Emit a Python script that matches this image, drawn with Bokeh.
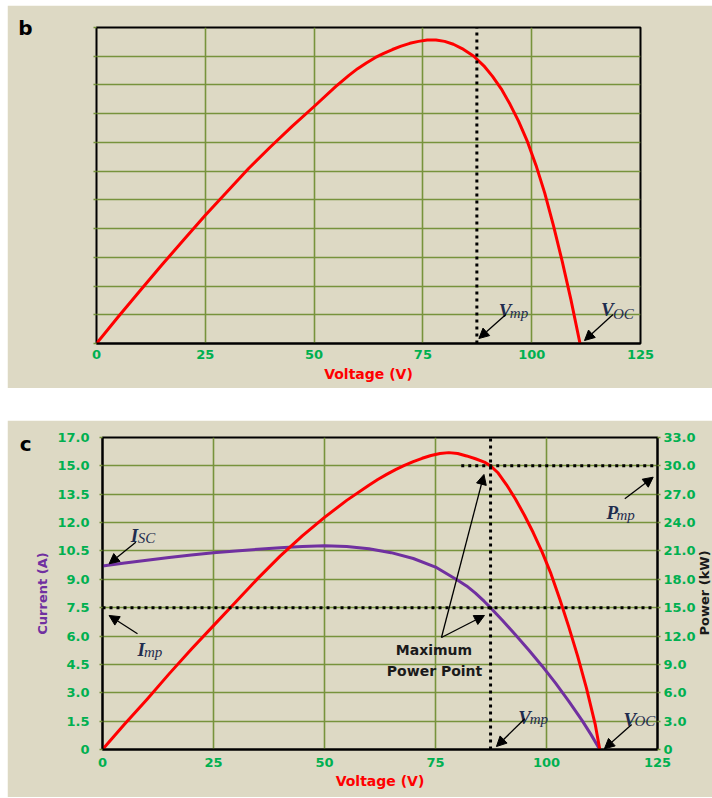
import math

from bokeh.embed import file_html
from bokeh.models import Arrow, FixedTicker, Label, LinearAxis, NormalHead, Range1d
from bokeh.plotting import figure
from bokeh.resources import INLINE

# ---------------------------------------------------------------- data
# panel b: power against voltage
volt_b = [0, 5, 10, 15, 20, 25, 30, 35, 40, 45, 50, 55, 58, 60, 62, 64, 66, 68,
          70, 72, 74, 76, 78, 80, 82, 84, 86.7, 89, 91, 93, 95, 97, 99, 101, 103,
          105, 107, 109, 111.1]
power_b = [0, 2.8, 5.5, 8.2, 10.8, 13.4, 15.85, 18.3, 20.55, 22.7, 24.75, 26.85,
           28.0, 28.7, 29.3, 29.85, 30.3, 30.7, 31.05, 31.35, 31.55, 31.7, 31.7,
           31.55, 31.25, 30.8, 30.0, 29.0, 27.9, 26.6, 25.0, 23.2, 21.1, 18.6,
           15.7, 12.3, 8.6, 4.6, 0]

# panel c: current and power against voltage
volt_c_current = [0, 5, 10, 15, 20, 25, 30, 35, 40, 45, 50, 55, 60, 65, 70, 75,
                  80, 82, 84, 86, 87.4, 90, 93, 96, 99, 102, 105, 108, 110, 112]
current_c = [9.7, 9.86, 10.01, 10.15, 10.28, 10.4, 10.5, 10.59, 10.67, 10.74,
             10.77, 10.74, 10.62, 10.41, 10.1, 9.65, 8.95, 8.65, 8.27, 7.83, 7.5,
             6.85, 6.07, 5.26, 4.42, 3.52, 2.56, 1.54, 0.8, 0]
volt_c_power = [0, 5, 10, 15, 20, 25, 30, 35, 40, 45, 50, 55, 60, 62, 64, 66, 68,
                70, 72, 74, 76, 78, 80, 82, 84, 86, 87.4, 89, 91, 93, 95, 97, 99,
                101, 103, 105, 107, 109, 111, 112]
power_c = [0, 2.7, 5.3, 8.0, 10.6, 13.1, 15.6, 18.1, 20.45, 22.6, 24.55, 26.35,
           27.95, 28.55, 29.1, 29.6, 30.05, 30.45, 30.8, 31.1, 31.3, 31.4, 31.3,
           31.05, 30.75, 30.4, 30.0, 29.3, 28.0, 26.5, 24.8, 22.95, 20.9, 18.6,
           15.9, 13.0, 9.9, 6.5, 2.6, 0]

# characteristic points
v_mp = 87.4
i_mp = 7.5
p_mp = 30.0
i_sc = current_c[0]
v_oc_b = volt_b[-1]
v_oc_c = volt_c_current[-1]

# axes
voltage_ticks = [0, 25, 50, 75, 100, 125]
current_ticks = [0, 1.5, 3.0, 4.5, 6.0, 7.5, 9.0, 10.5, 12.0, 13.5, 15.0, 16.5]
current_tick_labels = ["0", "1.5", "3.0", "4.5", "6.0", "7.5", "9.0", "10.5",
                       "12.0", "13.5", "15.0", "17.0"]
power_ticks = [0, 3, 6, 9, 12, 15, 18, 21, 24, 27, 30, 33]
power_tick_labels = ["0", "3.0", "6.0", "9.0", "12.0", "15.0", "18.0", "21.0",
                     "24.0", "27.0", "30.0", "33.0"]

# ---------------------------------------------------------------- styles
BEIGE = "#DDD9C4"
GRID = "#77933C"
TICK_GREEN = "#00B050"
RED = "#FF0000"
PURPLE = "#7030A0"
INK = "#1F2D4F"
SANS = "DejaVu Sans"
SERIF = "Liberation Serif"

V_MAX = voltage_ticks[-1]
I_MAX = current_ticks[-1]
P_MAX = power_ticks[-1]

# frame sizes in pixels (used to place notes at fixed pixel offsets)
B_W, B_H = 544, 316
C_W, C_H = 555, 312
xs_b, ys_b = B_W / V_MAX, B_H / P_MAX
xs_c, ys_ci, ys_cp = C_W / V_MAX, C_H / I_MAX, C_H / P_MAX

DOT_END = 124.2       # dotted guides stop just short of the right frame edge
PMP_DOT_START = 80.8  # horizontal P_mp guide starts left of the MPP


def shift(x, y, dx, dy, xs, ys):
    """Move a data point by a pixel offset (dy positive = up)."""
    return x + dx / xs, y + dy / ys


def base_figure(fw, fh, y_max, left, right, top, bottom):
    p = figure(frame_width=fw, frame_height=fh,
               x_range=Range1d(0, V_MAX), y_range=Range1d(0, y_max),
               output_backend="svg", toolbar_location=None,
               min_border_left=left, min_border_right=right,
               min_border_top=top, min_border_bottom=bottom)
    p.background_fill_color = BEIGE
    p.border_fill_color = BEIGE
    p.outline_line_color = "black"
    p.outline_line_width = 2

    p.xgrid.ticker = FixedTicker(ticks=voltage_ticks)
    p.xgrid.grid_line_color = GRID
    p.xgrid.grid_line_width = 1.6
    p.ygrid.grid_line_color = GRID
    p.ygrid.grid_line_width = 1.6

    ax = p.xaxis[0]
    ax.ticker = FixedTicker(ticks=voltage_ticks)
    ax.major_label_text_font = SANS
    ax.major_label_text_font_style = "bold"
    ax.major_label_text_font_size = "13px"
    ax.major_label_text_color = TICK_GREEN
    ax.major_tick_line_color = None
    ax.minor_tick_line_color = None
    ax.axis_line_color = "black"
    ax.axis_line_width = 2
    ax.axis_label = "Voltage (V)"
    ax.axis_label_text_font = SANS
    ax.axis_label_text_font_style = "bold"
    ax.axis_label_text_font_size = "14px"
    ax.axis_label_text_color = RED
    return p


def style_y_axis(ax, ticks, labels, standoff):
    ax.ticker = FixedTicker(ticks=ticks)
    ax.major_label_overrides = dict(zip(ticks, labels))
    ax.major_label_text_font = SANS
    ax.major_label_text_font_style = "bold"
    ax.major_label_text_font_size = "13px"
    ax.major_label_text_color = TICK_GREEN
    ax.major_label_standoff = standoff
    ax.major_tick_line_color = GRID
    ax.major_tick_line_width = 1.6
    ax.major_tick_out = 3
    ax.major_tick_in = 0
    ax.minor_tick_line_color = None
    ax.axis_line_color = "black"
    ax.axis_line_width = 2


def text_axis(ax, tick, text, standoff, size, color="black"):
    """An outer axis that carries a single text label and nothing else."""
    ax.ticker = FixedTicker(ticks=[tick])
    ax.major_label_overrides = {tick: text}
    ax.major_label_text_font = SANS
    ax.major_label_text_font_style = "bold"
    ax.major_label_text_font_size = size
    ax.major_label_text_color = color
    ax.major_label_standoff = standoff
    ax.major_tick_line_color = None
    ax.minor_tick_line_color = None
    ax.axis_line_color = None


def symbol(p, x, y, xs, ys, main, sub, main_off, sub_off, rng="default"):
    mx, my = shift(x, y, main_off[0], main_off[1], xs, ys)
    p.add_layout(Label(x=mx, y=my, text=main, text_font=SERIF,
                       text_font_style="bold italic", text_font_size="19px",
                       text_color=INK, text_baseline="alphabetic",
                       y_range_name=rng))
    sx, sy = shift(x, y, sub_off[0], sub_off[1], xs, ys)
    p.add_layout(Label(x=sx, y=sy, text=sub, text_font=SERIF,
                       text_font_style="italic", text_font_size="15px",
                       text_color=INK, text_baseline="alphabetic",
                       y_range_name=rng))


def pointer(p, x0, y0, x1, y1, rng="default"):
    p.add_layout(Arrow(x_start=x0, y_start=y0, x_end=x1, y_end=y1,
                       line_color="black", line_width=1.3,
                       end=NormalHead(size=10, fill_color="black",
                                      line_color="black", line_width=1),
                       y_range_name=rng))


def offset_pointer(p, x, y, xs, ys, tail, tip, rng="default"):
    x0, y0 = shift(x, y, tail[0], tail[1], xs, ys)
    x1, y1 = shift(x, y, tip[0], tip[1], xs, ys)
    pointer(p, x0, y0, x1, y1, rng)


def dotted(p, xs_, ys_, rng="default"):
    p.line(xs_, ys_, line_color="black", line_width=3, line_dash="3 4",
           y_range_name=rng)


# ---------------------------------------------------------------- panel b
pb = base_figure(B_W, B_H, P_MAX, left=89, right=72, top=22, bottom=45)
pb.margin = (5, 0, 0, 7)
pb.xaxis[0].major_label_standoff = 0
pb.xaxis[0].axis_label_standoff = 4
pb.ygrid.ticker = FixedTicker(ticks=power_ticks)
# left axis: short green ticks plus the panel letter at the top
yb = pb.yaxis[0]
style_y_axis(yb, power_ticks, ["" for _ in power_ticks[:-1]] + ["b"], 61)
yb.axis_line_color = None
yb.major_label_text_color = "black"
yb.major_label_text_font_size = "20px"

pb.line(volt_b, power_b, line_color=RED, line_width=3, line_join="round")
dotted(pb, [v_mp, v_mp], [0, P_MAX])

symbol(pb, v_mp, 0, xs_b, ys_b, "V", "mp", (22, 33), (33, 31))
offset_pointer(pb, v_mp, 0, xs_b, ys_b, (29, 29), (2, 5))
symbol(pb, v_oc_b, 0, xs_b, ys_b, "V", "OC", (21, 34), (33, 30))
offset_pointer(pb, v_oc_b, 0, xs_b, ys_b, (33, 29), (4.5, 3))

# ---------------------------------------------------------------- panel c
pc = base_figure(C_W, C_H, I_MAX, left=95, right=55, top=17, bottom=48)
pc.margin = (32, 0, 0, 7)
pc.xaxis[0].major_label_standoff = 2
pc.xaxis[0].axis_label_standoff = 3
pc.ygrid.ticker = FixedTicker(ticks=current_ticks)
pc.extra_y_ranges = {"power": Range1d(0, P_MAX)}

yl = pc.yaxis[0]
style_y_axis(yl, current_ticks, current_tick_labels, 10)
yl.axis_label = "Current (A)"
yl.axis_label_text_font = SANS
yl.axis_label_text_font_style = "bold"
yl.axis_label_text_font_size = "13px"
yl.axis_label_text_color = PURPLE
yl.axis_label_standoff = 4

# panel letter, carried by an outer left axis
_, c_tick = shift(0, I_MAX, 0, -6, xs_c, ys_ci)
yc_letter = LinearAxis()
text_axis(yc_letter, c_tick, "c", -5, "20px")
pc.add_layout(yc_letter, "left")

yr = LinearAxis(y_range_name="power")
style_y_axis(yr, power_ticks, power_tick_labels, 3)
pc.add_layout(yr, "right")

# right-hand title, read bottom to top, starting below the frame middle
_, title_start = shift(0, P_MAX / 2, 0, -42, xs_c, ys_cp)
yr_title = LinearAxis(y_range_name="power")
text_axis(yr_title, title_start, "Power (kW)", 0, "13px", "#1A1A1A")
yr_title.major_label_orientation = math.pi / 2
pc.add_layout(yr_title, "right")

pc.line(volt_c_current, current_c, line_color=PURPLE, line_width=3, line_join="round")
pc.line(volt_c_power, power_c, line_color=RED, line_width=3, line_join="round",
        y_range_name="power")

dotted(pc, [v_mp, v_mp], [0, I_MAX])
dotted(pc, [0, DOT_END], [i_mp, i_mp])
dotted(pc, [PMP_DOT_START, DOT_END], [p_mp, p_mp], rng="power")

# short-circuit current
symbol(pc, 0, i_sc, xs_c, ys_ci, "I", "SC", (28.3, 30.6), (35.3, 27.6))
offset_pointer(pc, 0, i_sc, xs_c, ys_ci, (33.3, 23.9), (6.6, 2.3))
# current at the maximum power point
symbol(pc, 0, i_mp, xs_c, ys_ci, "I", "mp", (35, -42), (41.5, -44.5))
offset_pointer(pc, 0, i_mp, xs_c, ys_ci, (35, -26), (6.6, -7.8))
# maximum power
symbol(pc, V_MAX, p_mp, xs_c, ys_cp, "P", "mp", (-51, -46.6), (-41, -49.6), rng="power")
offset_pointer(pc, V_MAX, p_mp, xs_c, ys_cp, (-32.7, -32.9), (-4.3, -11.3), rng="power")
# voltages
symbol(pc, v_mp, 0, xs_c, ys_ci, "V", "mp", (27.6, 32.3), (39.2, 31))
offset_pointer(pc, v_mp, 0, xs_c, ys_ci, (34.2, 30.7), (5.9, 3))
symbol(pc, v_oc_c, 0, xs_c, ys_ci, "V", "OC", (23.6, 29.7), (34.6, 28.3))
offset_pointer(pc, v_oc_c, 0, xs_c, ys_ci, (31.9, 25), (4.6, 0.7))

# "Maximum Power Point" note with pointers to both curves
for line_text, off in (("Maximum", (-56.6, -42.8)), ("Power Point", (-56, -63.5))):
    tx, ty = shift(v_mp, i_mp, off[0], off[1], xs_c, ys_ci)
    pc.add_layout(Label(x=tx, y=ty, text=line_text, text_font=SANS,
                        text_font_style="bold", text_font_size="14px",
                        text_color="#1A1A1A", text_align="center",
                        text_baseline="middle"))
tail_x, tail_y = shift(v_mp, i_mp, -49.1, -29.8, xs_c, ys_ci)
tip_x, tip_y = shift(v_mp, i_mp, -6.1, -7.8, xs_c, ys_ci)
pointer(pc, tail_x, tail_y, tip_x, tip_y)
ptip_x, ptip_y = shift(v_mp, p_mp, -6.6, -8.6, xs_c, ys_cp)
pointer(pc, tail_x, tail_y * P_MAX / I_MAX, ptip_x, ptip_y, rng="power")

with open("out.html", "w") as f:
    f.write(file_html([pb, pc], INLINE))
